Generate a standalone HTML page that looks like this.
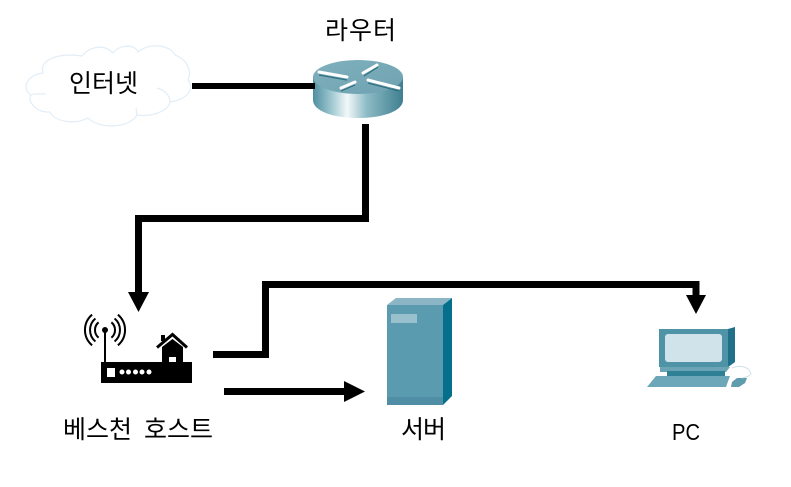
<!DOCTYPE html>
<html lang="ko">
<head>
<meta charset="utf-8">
<style>
html,body{margin:0;padding:0;background:#fff;width:791px;height:487px;overflow:hidden}
svg{display:block}
text{font-family:"Liberation Sans","Noto Sans CJK KR",sans-serif;font-size:25px;fill:#000}
</style>
</head>
<body>
<svg width="791" height="487" viewBox="0 0 791 487" xmlns="http://www.w3.org/2000/svg">
<defs>
<linearGradient id="rb" x1="0" x2="1" y1="0" y2="0">
<stop offset="0" stop-color="#4f8f9f"/>
<stop offset=".2" stop-color="#9cc6cf"/>
<stop offset=".38" stop-color="#f2f8f9"/>
<stop offset=".6" stop-color="#8dbac5"/>
<stop offset="1" stop-color="#3f7f90"/>
</linearGradient>
<linearGradient id="rt" x1="0" x2="1" y1="0" y2="1">
<stop offset="0" stop-color="#7fb0bd"/>
<stop offset="1" stop-color="#6fa2b1"/>
</linearGradient>
</defs>

<!-- cloud -->
<path d="M43.300 73.300 C38 62 55 52 82 56 C90 46 105 44 113 53 C120 44 135 44 138 52 C150 42 170 45 175 55 C188 60 192 72 188 80 C196 90 185 100 170 102 C168 112 150 117 137 115 C130 128 100 130 88 118 C75 125 55 122 50 112 C35 113 27 100 31 95 C22 90 25 75 43 73 Z" fill="#fff" stroke="#e2edf7" stroke-width="1.200"/>
<path d="M31 95 C36 93 40 94 46 94 M157 88 C165 90 170 96 170 102 M137 115 L136 108" fill="none" stroke="#e2edf7" stroke-width="1.200"/>
<text x="69" y="92">인터넷</text>

<!-- router -->
<path d="M313 77 V100 C313 111 333 118 358 118 C383 118 403 111 403 100 V77 Z" fill="url(#rb)"/>
<ellipse cx="358" cy="77" rx="45" ry="17" fill="url(#rt)"/>
<g fill="none" stroke="#2f6f80" stroke-width="1.200">
<path d="M319 75 L347 80"/>
<path d="M341 91 L355 85"/>
<path d="M364 76 L378 67"/>
<path d="M368 83 L399 91"/>
</g>
<g fill="none" stroke="#fff" stroke-width="3" stroke-linecap="round">
<path d="M319 72 L347 77"/>
<path d="M341 88 L355 82"/>
<path d="M363 73 L377 65"/>
<path d="M368 80 L399 88"/>
</g>
<text x="325" y="39" letter-spacing="1">라우터</text>

<!-- connectors -->
<g fill="none" stroke="#000" stroke-width="7">
<path d="M192 86 H315" stroke-width="6"/>
<path d="M365.500 124 V218.500 H138.500 V295"/>
<path d="M213 354.500 H265.500 V284.500 H696 V297"/>
<path d="M224 391.500 H347"/>
</g>
<path d="M128 292 H149 L138.500 312 Z" fill="#000"/>
<path d="M686 295 H706 L696 314 Z" fill="#000"/>
<path d="M344 381 L365 391.500 L344 402 Z" fill="#000"/>

<!-- bastion host icon -->
<g fill="none" stroke="#000" stroke-width="2">
<path d="M92.100 314.700 A20 20 0 0 0 92.100 345.300"/>
<path d="M95.400 318.500 A15 15 0 0 0 95.400 341.500"/>
<path d="M98.600 322.300 A10 10 0 0 0 98.600 337.700"/>
<path d="M117.900 314.700 A20 20 0 0 1 117.900 345.300"/>
<path d="M114.600 318.500 A15 15 0 0 1 114.600 341.500"/>
<path d="M111.400 322.300 A10 10 0 0 1 111.400 337.700"/>
</g>
<circle cx="105" cy="330" r="3" fill="#000"/>
<path d="M105 330 V364" stroke="#000" stroke-width="2"/>
<rect x="101" y="362" width="91" height="21" fill="#000"/>
<path d="M162 347 L172.500 339 L183 347 V363 H162 Z" fill="#000"/>
<path d="M157 347.500 L172.500 334.500 L187 347.500" fill="none" stroke="#000" stroke-width="3"/>
<rect x="161" y="335" width="4" height="6" fill="#000"/>
<rect x="169" y="357" width="7" height="5" fill="#fff"/>
<rect x="107" y="368" width="8" height="9" fill="#fff"/>
<g fill="#fff"><circle cx="122" cy="372" r="2.500"/><circle cx="128.500" cy="372" r="2.500"/><circle cx="135.500" cy="372" r="2.500"/><circle cx="142" cy="372" r="2.500"/><circle cx="149" cy="372" r="2.500"/></g>
<text x="63" y="438">베스천 <tspan x="144">호스트</tspan></text>

<!-- server -->
<path d="M387 305 L396 298 H452 L443 305 Z" fill="#8cb6c6"/>
<path d="M443 305 L452 298 V396 L443 405 Z" fill="#06708c"/>
<rect x="387" y="305" width="56" height="100" fill="#5b9bb0"/>
<rect x="387" y="397" width="56" height="8" fill="#4f8ea4"/>
<rect x="391" y="314" width="26" height="9" fill="#98c0cd"/>
<text x="401" y="438" letter-spacing="-1">서버</text>

<!-- PC -->
<path d="M659 329 H730 L735 327 V362 L728 367 H659 Z" fill="#4f93a6"/>
<path d="M728 329 L735 327 V362 L728 367 Z" fill="#1f7088"/>
<rect x="665" y="334" width="57" height="28" rx="3" fill="#d0e2ea"/>
<path d="M660 367 H730 L726 372 H660 Z" fill="#6ba4b4"/>
<rect x="667" y="371" width="58" height="6" fill="#2f7f95"/>
<path d="M656 376 H730 L726 387 H647 Z" fill="#6ba7b8"/>
<path d="M732 382 L737 378 H747 L745 383 L739 387 H731 Z" fill="#5e9cae"/>
<path d="M732 368 C742 364 750 368 751 374 C749 377 745 377 742 378" fill="none" stroke="#cfe2e9" stroke-width="1"/>
<text x="672" y="440" textLength="28" lengthAdjust="spacingAndGlyphs" style="font-size:23px">PC</text>
</svg>
</body>
</html>
